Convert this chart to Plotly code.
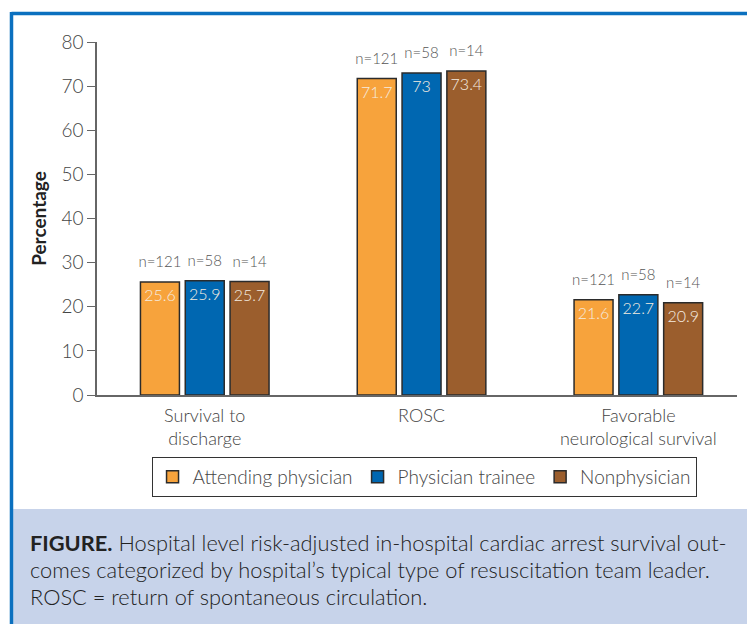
import plotly.graph_objects as go

categories = ["Survival to<br>discharge", "ROSC", "Favorable<br>neurological survival"]
series_names = ["Attending physician", "Physician trainee", "Nonphysician"]
values = {
    "Attending physician": [25.6, 71.7, 21.6],
    "Physician trainee": [25.9, 73.0, 22.7],
    "Nonphysician": [25.7, 73.4, 20.9],
}
n_labels = {
    "Attending physician": ["n=121", "n=121", "n=121"],
    "Physician trainee": ["n=58", "n=58", "n=58"],
    "Nonphysician": ["n=14", "n=14", "n=14"],
}
value_labels = {
    "Attending physician": ["25.6", "71.7", "21.6"],
    "Physician trainee": ["25.9", "73", "22.7"],
    "Nonphysician": ["25.7", "73.4", "20.9"],
}
y_ticks = [0, 10, 20, 30, 40, 50, 60, 70, 80]
colors = {
    "Attending physician": "#F7A33C",
    "Physician trainee": "#0067B1",
    "Nonphysician": "#9B5E2D",
}
caption_lines = [
    "<b>FIGURE.</b> Hospital level risk-adjusted in-hospital cardiac arrest survival out-",
    "comes categorized by hospital\u2019s typical type of resuscitation team leader.",
    "ROSC = return of spontaneous circulation.",
]

FONT = "Lato"
fig = go.Figure()
for i, name in enumerate(series_names):
    fig.add_trace(go.Bar(
        x=categories, y=values[name], name=name,
        offsetgroup=str(i),
        marker=dict(color=colors[name], line=dict(color="#2b2b2b", width=1.5)),
        text=value_labels[name], textposition="inside", insidetextanchor="end",
        textangle=0,
        textfont=dict(family=FONT, size=16, color="#f4ece0", weight=300),
        hoverinfo="skip",
    ))
for i, name in enumerate(series_names):
    fig.add_trace(go.Scatter(
        x=categories, y=values[name], name=name + " n",
        offsetgroup=str(i), showlegend=False, mode="markers+text",
        marker=dict(color="rgba(0,0,0,0)", size=16),
        text=n_labels[name], textposition="top center",
        textfont=dict(family=FONT, size=15, color="#555555", weight=300),
        cliponaxis=False, hoverinfo="skip",
    ))

fig.update_layout(
    width=747, height=624,
    margin=dict(l=97, r=10, t=42, b=229),
    paper_bgcolor="white", plot_bgcolor="white",
    barmode="group", bargap=0.38, bargroupgap=0.13,
    scattermode="group", scattergap=0.38,
    font=dict(family=FONT, size=17, color="#444444", weight=300),
    showlegend=True,
    legend=dict(
        orientation="h", x=0.511, xanchor="center", y=-0.175, yanchor="top",
        bordercolor="#333333", borderwidth=1, bgcolor="white",
        font=dict(family=FONT, size=19, color="#444444", weight=300),
        itemwidth=30, tracegroupgap=0,
    ),
    xaxis=dict(
        range=[-0.497, 2.455], showline=True, linecolor="#666666", linewidth=2,
        ticks="", showgrid=False, zeroline=False, ticklabelstandoff=3,
        tickfont=dict(family=FONT, size=18, color="#444444", weight=300),
    ),
    yaxis=dict(
        range=[0, 80], tickvals=y_ticks, showline=True, linecolor="#666666",
        linewidth=1.5, ticks="outside", ticklen=8, tickcolor="#666666",
        showgrid=False, zeroline=False,
        tickfont=dict(family=FONT, size=19, color="#444444", weight=300),
        title=dict(text="<b>Percentage</b>", font=dict(family=FONT, size=19, color="#222222"),
                   standoff=10),
    ),
)

# caption background
fig.add_shape(type="rect", xref="paper", yref="paper",
              x0=-0.131, x1=1.02, y0=-0.66, y1=-0.323,
              fillcolor="#C7D3EA", line=dict(width=0), layer="below")
# blue frame
fig.add_shape(type="line", xref="paper", yref="paper",
              x0=-0.1336, x1=1.02, y0=1.0807, y1=1.0807,
              line=dict(color="#0B70BF", width=3.5))
fig.add_shape(type="line", xref="paper", yref="paper",
              x0=-0.1336, x1=-0.1336, y0=-0.66, y1=1.085,
              line=dict(color="#0B70BF", width=3.5))

for k, line in enumerate(caption_lines):
    fig.add_annotation(
        xref="paper", yref="paper", x=-0.108, y=-0.419 - k * 0.0765,
        xanchor="left", yanchor="middle", showarrow=False, align="left",
        text=line, font=dict(family=FONT, size=21.8, color="#222222", weight=300),
    )

fig.write_html("out.html", config={"displayModeBar": False},
               post_script="document.body.style.margin='0';document.body.style.overflow='hidden';")
